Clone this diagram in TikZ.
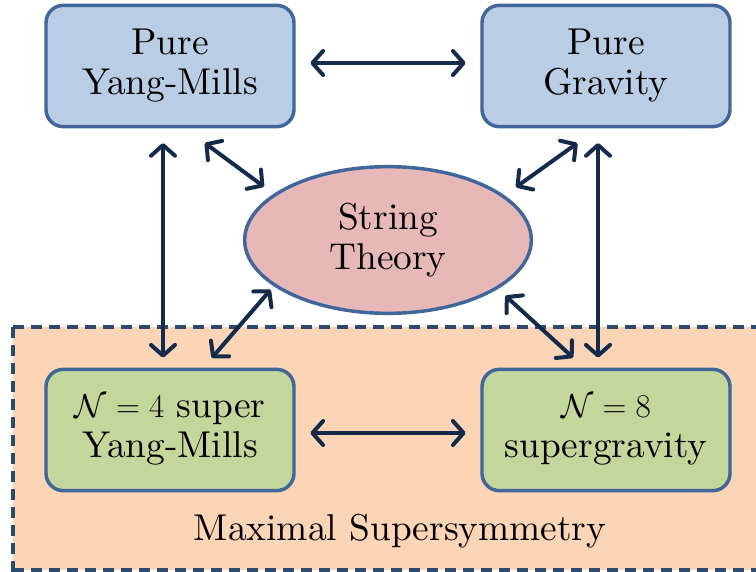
\documentclass[tikz,border=0pt]{standalone}
\usepackage{amsmath,amssymb}
\usepackage{fontspec}
\setmainfont{lmroman10-regular.otf}
\usepackage{xcolor}
\usetikzlibrary{arrows.meta,shapes.geometric}

\definecolor{boxblue}{HTML}{B9CDE5}
\definecolor{edgeblue}{HTML}{41669A}
\definecolor{pinkfill}{HTML}{E6B9B8}
\definecolor{greenfill}{HTML}{C3D69B}
\definecolor{peachfill}{HTML}{FBD5B5}
\definecolor{navy}{HTML}{142B4B}
\definecolor{dashblue}{HTML}{2B4A6E}

\begin{document}
\begin{tikzpicture}[x=0.75pt,y=-0.75pt,font=\fontsize{28}{30}\selectfont,
  theory/.style={draw=edgeblue,line width=2.6pt,rounded corners=13pt,
    minimum width=186pt,minimum height=91pt,inner sep=0pt,align=center},
  string/.style={ellipse,draw=edgeblue,line width=2.6pt,fill=pinkfill,
    minimum width=215pt,minimum height=110pt,inner sep=0pt,align=center},
  link/.style={navy,line width=3pt,>={Straight Barb[round,length=8pt,width=18pt]},<->}]
  \useasboundingbox (0,0) rectangle (756,571);
  \clip (0,0) rectangle (756,571);
  % supersymmetric region
  \fill[peachfill] (13,327) rectangle (775,570);
  \draw[draw=dashblue,line width=2.4pt,dash pattern=on 8pt off 5.5pt] (13,327) -- (775,327) (13,327) -- (13,575) (13,570) -- (775,570);
  \node (maxsusy) at (400,531) {Maximal Supersymmetry};
  % theories
  \node[theory,fill=boxblue] (pym) at (170,66) {Pure\\Yang-Mills};
  \node[theory,fill=boxblue] (pg) at (606,66) {Pure\\Gravity};
  \node[string] (st) at (388,240) {String\\Theory};
  \node[theory,fill=greenfill] (n4) at (170,430) {$\mathcal{N}=4$ super\\Yang-Mills};
  \node[theory,fill=greenfill] (n8) at (606,430) {$\mathcal{N}=8$\\supergravity};
  % dualities
  \draw[link,shorten <=11pt,shorten >=11pt] ([shift={(0,-3)}]pym.east) -- ([shift={(0,-3)}]pg.west);
  \draw[link,shorten <=11pt,shorten >=11pt] ([shift={(0,3)}]n4.east) -- ([shift={(0,3)}]n8.west);
  \draw[link,shorten <=11pt,shorten >=7.5pt] ([shift={(-7,0)}]pym.south) -- ([shift={(-7,0)}]n4.north);
  \draw[link,shorten <=11pt,shorten >=7.5pt] ([shift={(-8,0)}]pg.south) -- ([shift={(-8,0)}]n8.north);
  \draw[link,shorten <=18.5pt,shorten >=9pt] ([shift={(15,0)}]pym.south) -- (st.158);
  \draw[link,shorten <=19pt,shorten >=10.5pt] ([shift={(-8,0)}]pg.south) -- (st.21);
  \draw[link,shorten <=3.5pt,shorten >=9.5pt] (st.202) -- ([shift={(33.5,0)}]n4.north);
  \draw[link,shorten <=7.5pt,shorten >=11pt] (st.336) -- ([shift={(-22,0)}]n8.north);
\end{tikzpicture}
\end{document}
